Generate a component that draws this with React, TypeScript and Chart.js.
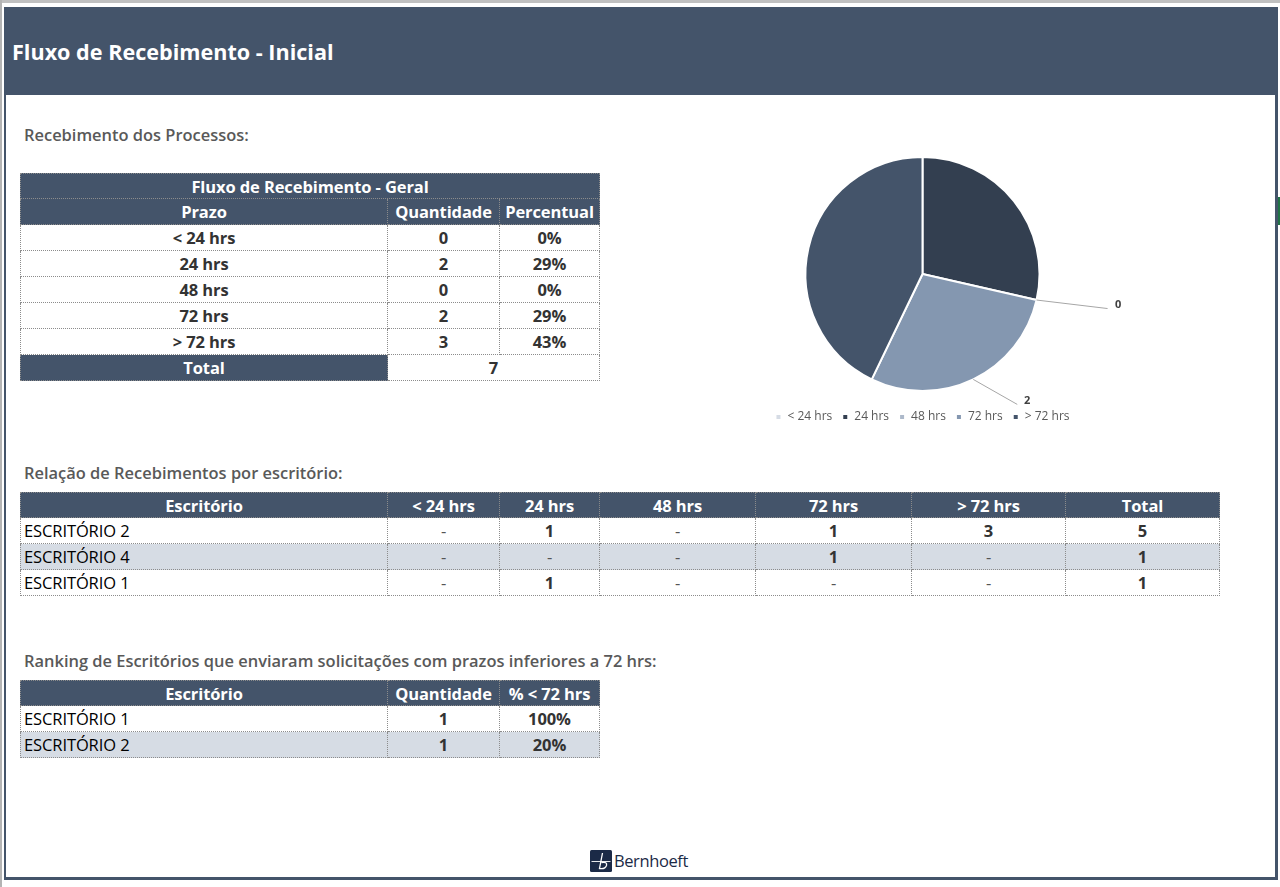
import React, { useEffect, useRef } from 'react';
import { Chart, registerables } from 'chart.js';

Chart.register(...registerables);

// ---------- data ----------
const prazoLabels = ['< 24 hrs', '24 hrs', '48 hrs', '72 hrs', '> 72 hrs'];
const prazoQuantidade = [0, 2, 0, 2, 3];
const prazoPercentual = ['0%', '29%', '0%', '29%', '43%'];
const totalGeral = 7;
const sliceColors = ['#D6DCE5', '#333F50', '#ADB9CA', '#8497B0', '#44546A'];

const escritorioHeaders = ['Escritório', '< 24 hrs', '24 hrs', '48 hrs', '72 hrs', '> 72 hrs', 'Total'];
const escritorioNames = ['ESCRITÓRIO 2', 'ESCRITÓRIO 4', 'ESCRITÓRIO 1'];
const escritorioCounts = [
  [0, 1, 0, 1, 3],
  [0, 0, 0, 1, 0],
  [0, 1, 0, 0, 0],
];
const escritorioTotals = [5, 1, 1];

const rankingHeaders = ['Escritório', 'Quantidade', '% < 72 hrs'];
const rankingNames = ['ESCRITÓRIO 1', 'ESCRITÓRIO 2'];
const rankingQuantidade = [1, 1];
const rankingPercentual = ['100%', '20%'];

// ---------- styles ----------
const DARK = '#44546A';
const SHADE = '#D6DCE4';
const BORDER = '1px dotted #8c8c8c';
const FONT = "'Open Sans', 'DejaVu Sans', sans-serif";
const ROW_H = 26;

type CellProps = {
  x0: number; x1: number; y: number; h?: number;
  text: React.ReactNode; dark?: boolean; shade?: boolean;
  align?: 'center' | 'left'; bold?: boolean; color?: string;
  first?: boolean; top?: boolean;
};

function Cell({ x0, x1, y, h = ROW_H, text, dark, shade, align = 'center', bold = true, color, first, top }: CellProps) {
  return (
    <div
      style={{
        position: 'absolute', left: x0, top: y, width: x1 - x0, height: h,
        boxSizing: 'border-box',
        borderRight: BORDER, borderBottom: BORDER,
        borderLeft: first ? BORDER : 'none', borderTop: top ? BORDER : 'none',
        background: dark ? DARK : shade ? SHADE : '#ffffff',
        color: dark ? '#ffffff' : color || '#333333',
        fontFamily: FONT, fontSize: 16.5, fontWeight: bold ? 700 : 400,
        display: 'flex', alignItems: 'center',
        justifyContent: align === 'center' ? 'center' : 'flex-start',
        paddingLeft: align === 'left' ? 3 : 0,
        whiteSpace: 'nowrap', overflow: 'hidden', letterSpacing: -0.1,
      }}
    >
      {text}
    </div>
  );
}

const dash = (v: number) => (v === 0 ? '-' : String(v));

const leaderPlugin = {
  id: 'leaderLabels',
  afterDatasetsDraw(chart: any, _args: any, opts: any) {
    const meta = chart.getDatasetMeta(0);
    const ctx = chart.ctx;
    const data = chart.data.datasets[0].data;
    (opts.items || []).forEach((it: any) => {
      const arc = meta.data[it.index];
      if (!arc) return;
      const p = arc.getProps(['x', 'y', 'startAngle', 'endAngle', 'outerRadius'], true);
      const a = (p.startAngle + p.endAngle) / 2;
      const ex = p.x + Math.cos(a) * p.outerRadius;
      const ey = p.y + Math.sin(a) * p.outerRadius;
      ctx.save();
      ctx.strokeStyle = opts.lineColor;
      ctx.lineWidth = 1;
      ctx.beginPath();
      ctx.moveTo(ex, ey);
      it.path.forEach((pt: number[]) => ctx.lineTo(ex + pt[0], ey + pt[1]));
      ctx.stroke();
      ctx.fillStyle = opts.color;
      ctx.font = opts.font;
      ctx.textAlign = 'center';
      ctx.textBaseline = 'middle';
      ctx.fillText(String(data[it.index]), ex + it.text[0], ey + it.text[1]);
      ctx.restore();
    });
  },
};

function PieChart() {
  const ref = useRef<HTMLCanvasElement>(null);
  useEffect(() => {
    if (!ref.current) return;
    const chart = new Chart(ref.current, {
      type: 'pie',
      data: {
        labels: prazoLabels,
        datasets: [{
          data: prazoQuantidade,
          backgroundColor: sliceColors,
          borderColor: '#ffffff',
          borderWidth: 2,
          radius: 117,
        } as any],
      },
      options: {
        animation: false,
        responsive: false,
        layout: { padding: { top: 7, bottom: 0, left: 0, right: 0 } },
        plugins: {
          legend: {
            position: 'bottom',
            labels: {
              boxWidth: 6, boxHeight: 6, padding: 10,
              color: '#595959',
              font: { family: FONT, size: 12 },
            },
          },
          tooltip: { enabled: false },
          leaderLabels: {
            lineColor: '#A6A6A6',
            color: '#404040',
            font: `bold 11px ${FONT}`,
            items: [
              { index: 2, path: [[71, 8.5]], text: [81.5, 5] },
              { index: 3, path: [[44, 25]], text: [54, 21] },
            ],
          },
        } as any,
      },
      plugins: [leaderPlugin],
    });
    return () => chart.destroy();
  }, []);
  return (
    <canvas
      ref={ref}
      width={445}
      height={293}
      style={{ position: 'absolute', left: 700, top: 140, width: 445, height: 293 }}
    />
  );
}

const sectionLabel: React.CSSProperties = {
  position: 'absolute', left: 24, fontFamily: FONT, fontSize: 16.45, fontWeight: 600,
  color: '#595959', whiteSpace: 'nowrap', lineHeight: '20px',
};

export default function App() {
  const t1x = [20, 388, 500, 600];
  const t2x = [20, 388, 500, 600, 756, 912, 1066, 1220];
  const t1y = 173;
  const t2y = 492;
  const t3y = 680;

  return (
    <div style={{ position: 'absolute', left: 0, top: 0, width: 1280, height: 887, overflow: 'hidden', background: '#ffffff' }}>
      {/* outer frame */}
      <div style={{ position: 'absolute', left: 0, top: 0, width: 1280, height: 3, background: '#c0c0c0' }} />
      <div style={{ position: 'absolute', left: 0, top: 0, width: 2, height: 887, background: '#b4b4b4' }} />
      <div style={{ position: 'absolute', left: 4, top: 7, width: 1273, height: 88, background: DARK }} />
      <div style={{ position: 'absolute', left: 4, top: 7, width: 2, height: 873, background: DARK }} />
      <div style={{ position: 'absolute', left: 1275, top: 7, width: 3, height: 873, background: DARK }} />
      <div style={{ position: 'absolute', left: 4, top: 877, width: 1274, height: 3, background: DARK }} />
      <div style={{ position: 'absolute', left: 1278, top: 197, width: 6, height: 28, boxSizing: 'border-box', border: '2px solid #217346' }} />

      {/* title */}
      <div style={{ position: 'absolute', left: 12, top: 38, fontFamily: FONT, fontSize: 21.6, fontWeight: 700, color: '#ffffff', lineHeight: '28px', whiteSpace: 'nowrap' }}>
        Fluxo de Recebimento - Inicial
      </div>

      {/* section 1 */}
      <div style={{ ...sectionLabel, top: 125 }}>Recebimento dos Processos:</div>
      <Cell x0={t1x[0]} x1={t1x[3]} y={t1y} text="Fluxo de Recebimento - Geral" dark first top />
      {['Prazo', 'Quantidade', 'Percentual'].map((h, i) => (
        <Cell key={h} x0={t1x[i]} x1={t1x[i + 1]} y={t1y + ROW_H} text={h} dark first={i === 0} />
      ))}
      {prazoLabels.map((lab, r) => {
        const y = t1y + ROW_H * (r + 2);
        return (
          <React.Fragment key={lab}>
            <Cell x0={t1x[0]} x1={t1x[1]} y={y} text={lab} first />
            <Cell x0={t1x[1]} x1={t1x[2]} y={y} text={String(prazoQuantidade[r])} />
            <Cell x0={t1x[2]} x1={t1x[3]} y={y} text={prazoPercentual[r]} />
          </React.Fragment>
        );
      })}
      <Cell x0={t1x[0]} x1={t1x[1]} y={t1y + ROW_H * 7} text="Total" dark first />
      <Cell x0={t1x[1]} x1={t1x[3]} y={t1y + ROW_H * 7} text={String(totalGeral)} />

      <PieChart />

      {/* section 2 */}
      <div style={{ ...sectionLabel, top: 463 }}>Relação de Recebimentos por escritório:</div>
      {escritorioHeaders.map((h, i) => (
        <Cell key={h} x0={t2x[i]} x1={t2x[i + 1]} y={t2y} text={h} dark first={i === 0} top />
      ))}
      {escritorioNames.map((name, r) => {
        const y = t2y + ROW_H * (r + 1);
        const shade = r % 2 === 1;
        return (
          <React.Fragment key={name}>
            <Cell x0={t2x[0]} x1={t2x[1]} y={y} text={name} align="left" bold={false} color="#000000" shade={shade} first />
            {escritorioCounts[r].map((v, c) => (
              <Cell key={c} x0={t2x[c + 1]} x1={t2x[c + 2]} y={y} text={dash(v)} shade={shade} color={v === 0 ? '#555555' : '#333333'} bold={v !== 0} />
            ))}
            <Cell x0={t2x[6]} x1={t2x[7]} y={y} text={String(escritorioTotals[r])} shade={shade} />
          </React.Fragment>
        );
      })}

      {/* section 3 */}
      <div style={{ ...sectionLabel, top: 651 }}>Ranking de Escritórios que enviaram solicitações com prazos inferiores a 72 hrs:</div>
      {rankingHeaders.map((h, i) => (
        <Cell key={h} x0={t1x[i]} x1={t1x[i + 1]} y={t3y} text={h} dark first={i === 0} top />
      ))}
      {rankingNames.map((name, r) => {
        const y = t3y + ROW_H * (r + 1);
        const shade = r % 2 === 1;
        return (
          <React.Fragment key={name}>
            <Cell x0={t1x[0]} x1={t1x[1]} y={y} text={name} align="left" bold={false} color="#000000" shade={shade} first />
            <Cell x0={t1x[1]} x1={t1x[2]} y={y} text={String(rankingQuantidade[r])} shade={shade} />
            <Cell x0={t1x[2]} x1={t1x[3]} y={y} text={rankingPercentual[r]} shade={shade} />
          </React.Fragment>
        );
      })}

      {/* logo */}
      <svg style={{ position: 'absolute', left: 590, top: 850 }} width={22} height={22} viewBox="0 0 22 22">
        <rect x={0} y={0} width={22} height={22} rx={1.5} fill="#1B2A47" />
        <line x1={1.5} y1={11.5} x2={20.5} y2={11.5} stroke="#ffffff" strokeWidth={0.9} />
        <path d="M12.5 3 L9.5 18.5 Q15 19.5 16.5 15.5 Q17.5 11.5 11.5 12.5" stroke="#ffffff" strokeWidth={1.3} fill="none" />
      </svg>
      <div style={{ position: 'absolute', left: 614, top: 850, fontFamily: FONT, fontSize: 16.5, color: '#1B2A47', lineHeight: '22px', letterSpacing: -0.4, whiteSpace: 'nowrap' }}>
        Bernhoeft
      </div>
    </div>
  );
}
